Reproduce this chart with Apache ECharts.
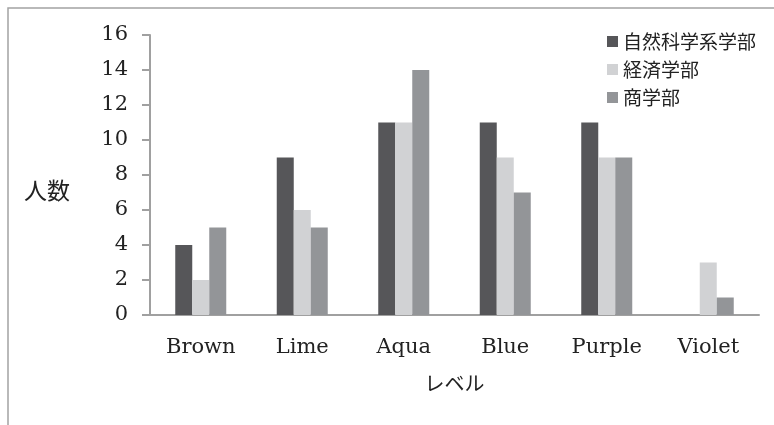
<!DOCTYPE html>
<html><head><meta charset="utf-8">
<script src="https://cdn.jsdelivr.net/npm/echarts@6/dist/echarts.min.js"></script>
<style>html,body{margin:0;padding:0;background:#fff}#c{width:774px;height:425px}</style>
</head><body><div id="c"></div>
<script>
const categories = ['Brown', 'Lime', 'Aqua', 'Blue', 'Purple', 'Violet'];
const seriesNames = ['自然科学系学部', '経済学部', '商学部'];
const natural = [4, 9, 11, 11, 11, 0];
const economics = [2, 6, 11, 9, 9, 3];
const commerce = [5, 5, 14, 7, 9, 1];
const yTicks = [0, 2, 4, 6, 8, 10, 12, 14, 16];
const colors = ['#565659', '#d1d2d4', '#939598'];

const serif = '"DejaVu Serif", serif';
const cjk = '"Noto Sans CJK JP", sans-serif';
const chart = echarts.init(document.getElementById('c'), null, {renderer: 'canvas'});
const values = [natural, economics, commerce];
chart.setOption({
  animation: false,
  color: colors,
  graphic: [
    {type: 'rect', shape: {x: 8, y: 8, width: 900, height: 600}, style: {fill: 'none', stroke: '#a3a3a3', lineWidth: 1.5}, silent: true},
    {type: 'text', left: 24, top: 179, style: {text: '人数', font: '23px "Noto Sans CJK JP"', fill: '#222'}}
  ],
  grid: {left: 150, right: 15, top: 35, bottom: 110, containLabel: false},
  legend: {
    orient: 'vertical', left: 602, top: 27, itemWidth: 11, itemHeight: 11, itemGap: 9,
    icon: 'rect',
    textStyle: {fontFamily: cjk, fontSize: 19, color: '#222'},
    data: seriesNames
  },
  xAxis: {
    type: 'category', data: categories,
    name: 'レベル', nameLocation: 'middle', nameGap: 58,
    nameTextStyle: {fontFamily: cjk, fontSize: 20, color: '#222'},
    axisLine: {lineStyle: {color: '#a0a0a0', width: 2}},
    axisTick: {show: false},
    axisLabel: {fontFamily: serif, fontSize: 21, color: '#222', margin: 22}
  },
  yAxis: {
    type: 'value', min: 0, max: 16, interval: 2,
    axisLine: {show: true, lineStyle: {color: '#a0a0a0', width: 2}},
    axisTick: {show: true, length: 8, lineStyle: {color: '#a0a0a0', width: 2}},
    splitLine: {show: false},
    axisLabel: {fontFamily: serif, fontSize: 21, color: '#222', margin: 22,
      formatter: v => yTicks.includes(v) ? String(v) : ''}
  },
  series: seriesNames.map((n, i) => ({
    name: n, type: 'bar', data: values[i], barWidth: 17, barGap: '0%',
    itemStyle: {color: colors[i]}
  }))
});
</script></body></html>
